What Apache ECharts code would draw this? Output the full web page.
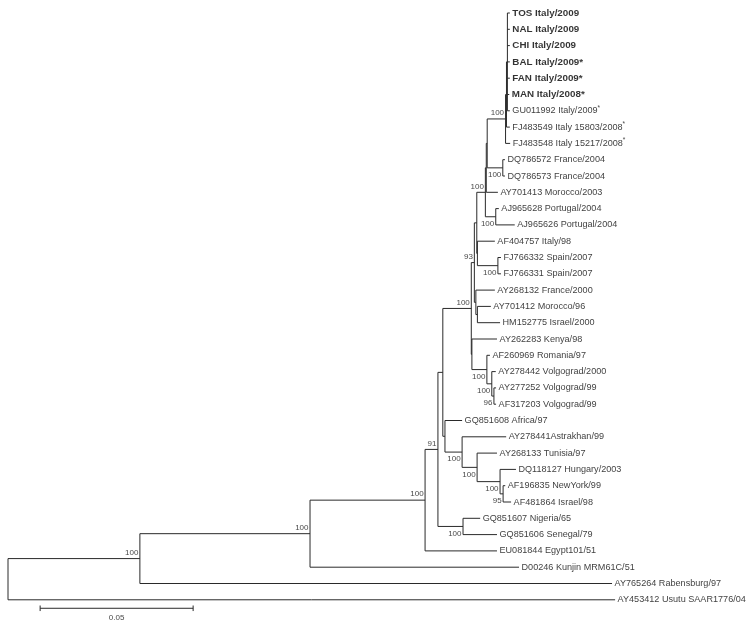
<!DOCTYPE html>
<html><head><meta charset="utf-8">
<script src="https://cdn.jsdelivr.net/npm/echarts@6/dist/echarts.min.js"></script>
<style>html,body{margin:0;padding:0;background:#fff}#c{width:750px;height:628px}</style>
</head><body><div id="c"></div>
<script>
// ---- data: leaves (top to bottom) ----
const leafNames = [
 'TOS Italy/2009','NAL Italy/2009','CHI Italy/2009','BAL Italy/2009*','FAN Italy/2009*','MAN Italy/2008*',
 'GU011992 Italy/2009*','FJ483549 Italy 15803/2008*','FJ483548 Italy 15217/2008*',
 'DQ786572 France/2004','DQ786573 France/2004','AY701413 Morocco/2003','AJ965628 Portugal/2004','AJ965626 Portugal/2004',
 'AF404757 Italy/98','FJ766332 Spain/2007','FJ766331 Spain/2007','AY268132 France/2000','AY701412 Morocco/96','HM152775 Israel/2000',
 'AY262283 Kenya/98','AF260969 Romania/97','AY278442 Volgograd/2000','AY277252 Volgograd/99','AF317203 Volgograd/99',
 'GQ851608 Africa/97','AY278441Astrakhan/99','AY268133 Tunisia/97','DQ118127 Hungary/2003','AF196835 NewYork/99','AF481864 Israel/98',
 'GQ851607 Nigeria/65','GQ851606 Senegal/79','EU081844 Egypt101/51','D00246 Kunjin MRM61C/51','AY765264 Rabensburg/97','AY453412 Usutu SAAR1776/04'
];
// terminal branch lengths (substitutions/site)
const leafLengths = [
 0.0008,0.0008,0.0008,0.0008,0.0008,0.0006,0.0008,0.0011,0.0015,
 0.0007,0.0007,0.0038,0.0010,0.0062,
 0.0057,0.0010,0.0010,0.0062,0.0044,0.0074,
 0.0082,0.0010,0.0013,0.0007,0.0007,
 0.0056,0.0144,0.0065,0.0052,0.0007,0.0026,
 0.0056,0.0111,0.0235,0.0683,0.1543,0.1984
];
const boldLeafCount = 6;
// ---- data: internal nodes (children: number = leaf index, string = node id) ----
const nodeIds = ['root','N1','N2','N3','N4','N5','N6','N7','N8','N9','N10','N11','N12','A','B','A1','A2','A2b','K','J','M2','I','I1','I2','Fr','Po','Z','Sp','V0','V1','V2'];
const nodeChildren = [
 ['N1',36],['N2',35],['N3',34],['N4',33],['N5','N6'],['N7','N8'],[31,32],['A','B'],[25,'N9'],[26,'N10'],[27,'N11'],[28,'N12'],[29,30],
 ['A1','A2'],[20,'V0'],['K','Z'],[17,'A2b'],[18,19],['J','Po'],['M2',11],['I','Fr'],['I1',8],['I2',7],[0,1,2,3,4,5,6],
 [9,10],[12,13],[14,'Sp'],[15,16],[21,'V1'],[22,'V2'],[23,24]
];
const nodeLengths = [0,0.0431,0.0556,0.0376,0.0042,0.0016,0.0082,0.0093,0.0007,0.0056,0.0049,0.0075,0.0010,
 0.0010,0.0002,0.0008,0.0005,0.0005,0.0028,0.0003,0.0003,0.0060,0.0003,0.0003,0.0051,0.0034,0.0002,0.0067,0.0049,0.0016,0.0007];
const nodeSupport = [null,100,100,100,91,null,100,100,null,100,100,100,95,93,null,null,null,null,100,null,null,100,null,null,100,100,null,100,100,100,96];
const scaleBarLength = 0.05;
const scaleBarStart = 0.0105;
const scaleBarText = '0.05';

// ---- layout (phylogram) ----
const info = {};
leafNames.forEach((n, i) => { info[i] = {len: leafLengths[i], y: i, leaf: true, name: n}; });
nodeIds.forEach((id, i) => { info[id] = {len: nodeLengths[i], kids: nodeChildren[i], sup: nodeSupport[i]}; });
function place(id, x0, parent, first) {
  const n = info[id]; n.x = x0 + n.len; n.first = first; n.parent = parent;
  if (!n.leaf) {
    n.kids.forEach((k, j) => place(k, n.x, id, j === 0));
    n.y = (info[n.kids[0]].y + info[n.kids[n.kids.length - 1]].y) / 2;
  }
}
place('root', 0, null, true);

const segs = [];
nodeIds.forEach(id => {
  const n = info[id];
  const f = info[n.kids[0]], l = info[n.kids[n.kids.length - 1]];
  segs.push({coords: [[n.x, f.y], [n.x, l.y]]});
  n.kids.forEach(k => { const c = info[k]; segs.push({coords: [[n.x, c.y], [c.x, c.y]]}); });
});
const sbY = leafNames.length - 0.48;
segs.push({coords: [[scaleBarStart, sbY], [scaleBarStart + scaleBarLength, sbY]]});
segs.push({coords: [[scaleBarStart, sbY - 0.17], [scaleBarStart, sbY + 0.17]]});
segs.push({coords: [[scaleBarStart + scaleBarLength, sbY - 0.17], [scaleBarStart + scaleBarLength, sbY + 0.17]]});

const leafPts = leafNames.map((n, i) => [info[i].x, i, n]);
const supUp = [], supDown = [];
nodeIds.forEach(id => {
  const n = info[id];
  if (n.sup != null) (n.first ? supUp : supDown).push([n.x, n.y, String(n.sup)]);
});

const FONT = '"Liberation Sans", Arial, sans-serif';
const chart = echarts.init(document.getElementById('c'), null, {renderer: 'canvas'});
chart.setOption({
  animation: false,
  backgroundColor: '#ffffff',
  grid: {left: 8, top: 13, width: 612, height: 603.1},
  xAxis: {type: 'value', min: 0, max: 0.2, show: false},
  yAxis: {type: 'value', min: 0, max: 37, inverse: true, show: false},
  series: [
    {type: 'lines', coordinateSystem: 'cartesian2d', polyline: true, clip: false, silent: true,
     lineStyle: {color: '#2a2a2a', width: 1, opacity: 1}, data: segs},
    {type: 'scatter', symbolSize: 0, clip: false, silent: true, data: leafPts,
     label: {show: true, position: 'right', distance: 2.5, color: '#000', fontFamily: FONT, fontSize: 9.1,
       formatter: p => {
         const nm = p.value[2]; const i = p.dataIndex;
         if (i < boldLeafCount) return '{b|' + nm + '}';
         if (nm.endsWith('*')) return '{n|' + nm.slice(0, -1) + '}{s|*}';
         return '{n|' + nm + '}';
       },
       rich: {
         b: {fontWeight: 'bold', fontSize: 9.8, fontFamily: FONT, color: '#000'},
         n: {fontSize: 9.1, fontFamily: FONT, color: '#0a0a0a'},
         s: {fontSize: 6.5, fontFamily: FONT, color: '#0a0a0a', verticalAlign: 'top', padding: [0, 0, 6, 0]}
       }}},
    {type: 'scatter', symbolSize: 0, clip: false, silent: true, data: supUp,
     label: {show: true, position: 'left', distance: 1.5, offset: [0, -6], color: '#111', fontFamily: FONT, fontSize: 8,
       formatter: p => p.value[2]}},
    {type: 'scatter', symbolSize: 0, clip: false, silent: true, data: supDown,
     label: {show: true, position: 'left', distance: 1.5, offset: [0, 7], color: '#111', fontFamily: FONT, fontSize: 8,
       formatter: p => p.value[2]}},
    {type: 'scatter', symbolSize: 0, clip: false, silent: true,
     data: [[scaleBarStart + scaleBarLength / 2, sbY, scaleBarText]],
     label: {show: true, position: 'bottom', distance: 6, color: '#111', fontFamily: FONT, fontSize: 8,
       formatter: p => p.value[2]}}
  ]
});
</script></body></html>
